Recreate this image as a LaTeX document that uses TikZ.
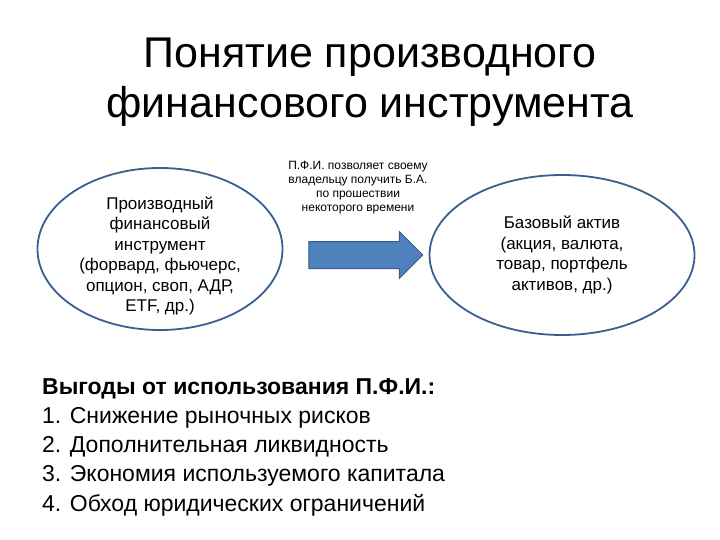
\documentclass[tikz,border=0pt]{standalone}
\usepackage{fontspec}
\setmainfont{Liberation Sans}
\usetikzlibrary{shapes.geometric,shapes.arrows}
\definecolor{edge}{HTML}{3A5F8F}
\definecolor{afill}{HTML}{4F81BD}
\definecolor{aline}{HTML}{385D8A}
\tikzset{
  oval/.style={ellipse,draw=edge,line width=1.8pt,align=center,font=\fontsize{17}{20.5}\selectfont},
  listline/.style={anchor=west,inner sep=0pt,font=\fontsize{23}{26}\selectfont}
}
\begin{document}
\begin{tikzpicture}[x=1pt,y=-1pt]
\useasboundingbox (0,0) rectangle (720,540);
\node[align=center,font=\fontsize{43}{50}\selectfont] (title) at (370,82) {Понятие производного\\финансового инструмента};
\node[oval,minimum width=245pt,minimum height=162pt] (left) at (160,249) {};
\node[align=center,font=\fontsize{17}{20.5}\selectfont] (ltext) at (160,256) {Производный\\финансовый\\инструмент\\(форвард, фьючерс,\\опцион, своп, АДР,\\ETF, др.)};
\node[oval,minimum width=265pt,minimum height=160pt] (right) at (562,255) {Базовый актив\\(акция, валюта,\\товар, портфель\\активов, др.)};
\node[single arrow,fill=afill,draw=aline,line width=1pt,minimum height=114pt,single arrow head extend=10pt,single arrow tip angle=90,inner sep=0pt] (arr) at (359,255) {\rule{0pt}{26pt}};
\node[align=center,font=\fontsize{12}{14}\selectfont] (atext) at (358,188) {П.Ф.И. позволяет своему\\владельцу получить Б.А.\\по прошествии\\некоторого времени};
\node[listline,font=\bfseries\fontsize{23}{26}\selectfont] (l0) at (42,389) {Выгоды от использования П.Ф.И.:};
\node[listline] (l1) at (42,418) {1. Снижение рыночных рисков};
\node[listline] (l2) at (42,447) {2. Дополнительная ликвидность};
\node[listline] (l3) at (42,476) {3. Экономия используемого капитала};
\node[listline] (l4) at (42,505) {4. Обход юридических ограничений};
\end{tikzpicture}
\end{document}
